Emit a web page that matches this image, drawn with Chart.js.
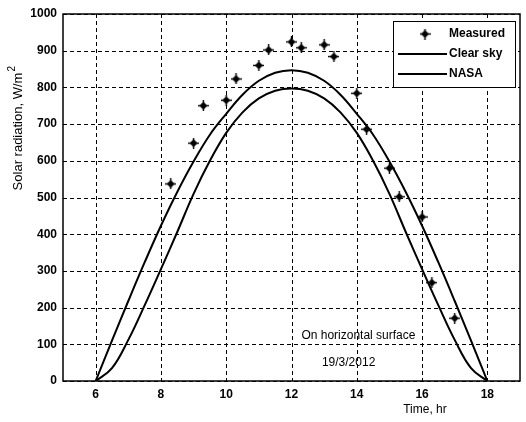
<!DOCTYPE html>
<html>
<head>
<meta charset="utf-8">
<script src="https://cdn.jsdelivr.net/npm/chart.js@4"></script>
<style>
  html, body { margin: 0; padding: 0; background: #fff; }
  #wrap { width: 526px; height: 422px; }
</style>
</head>
<body>
<div id="wrap"><canvas id="solarChart" width="526" height="422"></canvas></div>
<script>
// measured points (time, W/m2)
const measuredTime = [8.3, 9.0, 9.3, 10.0, 10.3, 11.0, 11.3, 12.0, 12.3, 13.0, 13.3, 14.0, 14.3, 15.0, 15.3, 16.0, 16.3, 17.0];
const measuredVal  = [537, 648, 750, 765, 823, 860, 902, 924, 908, 916, 884, 784, 686, 580, 502, 447, 268, 171];

// model curves, read every half hour
const curveTime = [6, 6.5, 7, 7.5, 8, 8.5, 9, 9.5, 10, 10.5, 11, 11.5, 12, 12.5, 13, 13.5, 14, 14.5, 15, 15.5, 16, 16.5, 17, 17.5, 18];
const clearSky  = [0, 110, 218, 323, 423, 515, 598, 671, 728, 780, 818, 840, 847, 840, 818, 780, 728, 671, 598, 515, 423, 323, 218, 110, 0];
const nasa      = [0, 35, 112, 206, 305, 406, 510, 600, 676, 732, 770, 791, 797, 791, 770, 732, 676, 600, 510, 406, 305, 206, 112, 35, 0];

const xTicks = [6, 8, 10, 12, 14, 16, 18];
const yTicks = [0, 100, 200, 300, 400, 500, 600, 700, 800, 900, 1000];

function toPts(xs, ys) {
    return xs.map((x, i) => ({ x: x, y: ys[i] }));
}

// diamond with a plus through it, like the printed marker
function makeMarker() {
    const c = document.createElement('canvas');
    c.width = 11; c.height = 11;
    const g = c.getContext('2d');
    g.fillStyle = '#000';
    g.beginPath();
    g.moveTo(5.5, 1.5); g.lineTo(9.5, 5.5); g.lineTo(5.5, 9.5); g.lineTo(1.5, 5.5);
    g.closePath();
    g.fill();
    g.fillRect(4.8, 0, 1.4, 11);
    g.fillRect(0, 4.8, 11, 1.4);
    return c;
}
const marker = makeMarker();

const FONT = '"Liberation Sans", Arial, sans-serif';

const decorations = {
    id: 'decorations',
    beforeDatasetsDraw(chart) {
        // dashed grid, one line per tick
        const ctx = chart.ctx;
        const a = chart.chartArea;
        const xs = chart.scales.x, ys = chart.scales.y;
        ctx.save();
        ctx.strokeStyle = '#000';
        ctx.lineWidth = 1;
        ctx.setLineDash([4, 3]);
        ctx.beginPath();
        xTicks.forEach(v => {
            const px = Math.round(xs.getPixelForValue(v)) + 0.5;
            ctx.moveTo(px, a.top); ctx.lineTo(px, a.bottom);
        });
        yTicks.forEach(v => {
            const py = Math.round(ys.getPixelForValue(v)) + 0.5;
            ctx.moveTo(a.left, py); ctx.lineTo(a.right, py);
        });
        ctx.stroke();
        ctx.restore();
    },
    afterDraw(chart) {
        const ctx = chart.ctx;
        const a = chart.chartArea;
        const xs = chart.scales.x, ys = chart.scales.y;
        ctx.save();
        // frame
        ctx.strokeStyle = '#000';
        ctx.lineWidth = 1.5;
        ctx.setLineDash([]);
        ctx.strokeRect(a.left, a.top, a.right - a.left, a.bottom - a.top);

        // annotation text
        ctx.fillStyle = '#000';
        ctx.font = '12px ' + FONT;
        ctx.textAlign = 'center';
        ctx.textBaseline = 'middle';
        ctx.fillText('On horizontal surface', xs.getPixelForValue(14.05), ys.getPixelForValue(123));
        ctx.fillText('19/3/2012', xs.getPixelForValue(13.75), ys.getPixelForValue(51));

        // axis titles
        ctx.fillText('Time, hr', 425, 410);
        ctx.save();
        ctx.translate(18, 128);
        ctx.rotate(-Math.PI / 2);
        ctx.textAlign = 'left';
        ctx.font = '13px ' + FONT;
        const main = 'Solar radiation, W/m';
        const w = ctx.measureText(main).width;
        const sw = 7;
        const x0 = -(w + sw) / 2;
        ctx.fillText(main, x0, 0);
        ctx.font = '10px ' + FONT;
        ctx.fillText('2', x0 + w + 1, -6);
        ctx.restore();

        // legend box
        const lx = 393, ly = 21, lw = 122, lh = 66;
        ctx.fillStyle = '#fff';
        ctx.fillRect(lx, ly, lw, lh);
        ctx.lineWidth = 1;
        ctx.strokeRect(lx + 0.5, ly + 0.5, lw, lh);
        ctx.drawImage(marker, 425 - 5.5, 34 - 5.5);
        ctx.lineWidth = 2;
        ctx.beginPath();
        ctx.moveTo(398, 54); ctx.lineTo(447, 54);
        ctx.moveTo(398, 74); ctx.lineTo(447, 74);
        ctx.stroke();
        ctx.fillStyle = '#000';
        ctx.font = 'bold 12px ' + FONT;
        ctx.textAlign = 'left';
        ctx.fillText('Measured', 449, 34);
        ctx.fillText('Clear sky', 449, 54);
        ctx.fillText('NASA', 449, 74);
        ctx.restore();
    }
};

const ctx = document.getElementById('solarChart').getContext('2d');
new Chart(ctx, {
    type: 'scatter',
    data: {
        datasets: [{
            label: 'Measured',
            data: toPts(measuredTime, measuredVal),
            pointStyle: marker,
            pointRadius: 5,
            showLine: false
        }, {
            label: 'Clear sky',
            data: toPts(curveTime, clearSky),
            showLine: true,
            borderColor: '#000',
            borderWidth: 2,
            pointRadius: 0,
            tension: 0.4
        }, {
            label: 'NASA',
            data: toPts(curveTime, nasa),
            showLine: true,
            borderColor: '#000',
            borderWidth: 2,
            pointRadius: 0,
            tension: 0.4
        }]
    },
    options: {
        responsive: false,
        animation: false,
        layout: { padding: { top: 14, right: 1, left: 0, bottom: 0 } },
        plugins: {
            legend: { display: false },
            tooltip: { enabled: false }
        },
        scales: {
            x: {
                type: 'linear',
                min: 5,
                max: 19,
                afterBuildTicks: s => { s.ticks = xTicks.map(v => ({ value: v })); },
                afterFit: s => { s.height = 41; },
                grid: { display: false, drawTicks: false },
                border: { display: false },
                ticks: {
                    color: '#000',
                    padding: 6,
                    callback: v => String(v),
                    font: { family: FONT, size: 12, weight: 'bold' }
                }
            },
            y: {
                min: 0,
                max: 1000,
                afterBuildTicks: s => { s.ticks = yTicks.map(v => ({ value: v })); },
                afterFit: s => { s.width = 63; },
                grid: { display: false, drawTicks: false },
                border: { display: false },
                ticks: {
                    color: '#000',
                    padding: 6,
                    callback: v => String(v),
                    font: { family: FONT, size: 12, weight: 'bold' }
                }
            }
        }
    },
    plugins: [decorations]
});
</script>
</body>
</html>
